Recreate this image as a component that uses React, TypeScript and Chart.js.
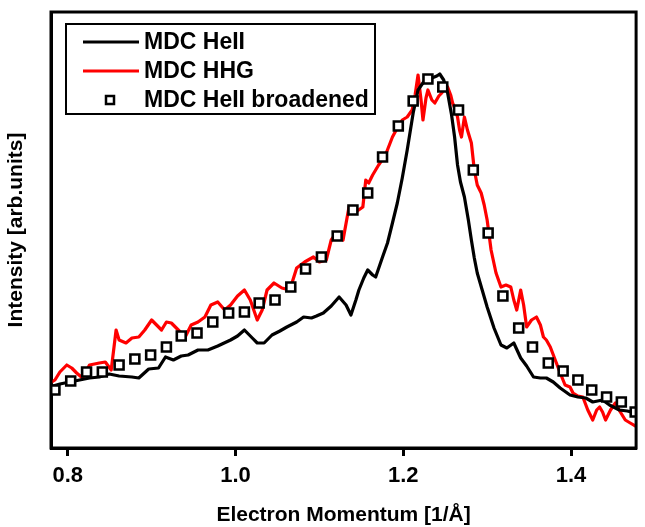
import React, { useEffect, useRef } from "react";
import { Chart, registerables } from "chart.js";

Chart.register(...registerables);

// MDC He II (black trace)
const momentumHeII = [
  0.7788, 0.7906, 0.8024, 0.8141, 0.8259, 0.8376, 0.8494, 0.8612, 0.8765, 0.8847,
  0.8965, 0.9082, 0.9165, 0.9259, 0.9353, 0.9435, 0.9553, 0.9671, 0.9788, 0.9941,
  1.0024, 1.0106, 1.02, 1.0259, 1.0341, 1.0435, 1.0529, 1.0612, 1.0729, 1.0812,
  1.0906, 1.0965, 1.1047, 1.1141, 1.1235, 1.1318, 1.1376, 1.1435, 1.1471, 1.1529,
  1.1576, 1.1635, 1.1671, 1.1753, 1.1812, 1.1871, 1.1929, 1.1988, 1.2047, 1.2118,
  1.2176, 1.2259, 1.2341, 1.24, 1.2435, 1.2482, 1.2529, 1.2576, 1.2612, 1.2647,
  1.2682, 1.2729, 1.2776, 1.2812, 1.2847, 1.2882, 1.2941, 1.3, 1.3082, 1.3165,
  1.3235, 1.3318, 1.34, 1.3471, 1.3553, 1.3635, 1.3706, 1.3788, 1.3871, 1.3988,
  1.4082, 1.4176, 1.4259, 1.4376, 1.4459, 1.4576, 1.4671, 1.4765,
];
const intensityHeII = [
  61, 64, 66, 68, 70, 71, 74, 72, 71, 70,
  79, 80, 91, 88, 92, 93, 98, 98, 102, 108,
  112, 118, 110, 105, 105, 113, 117, 121, 126, 131,
  130, 132, 135, 142, 151, 143, 133, 148, 158, 170,
  178, 173, 171, 191, 205, 225, 245, 270, 298, 335,
  358, 368, 370, 372, 374, 368, 355, 333, 311, 283,
  266, 251, 228, 208, 190, 175, 158, 141, 120, 103,
  100, 105, 90, 82, 71, 70, 70, 66, 60, 53,
  51, 50, 46, 48, 43, 38, 37, 35,
];

// MDC HHG (red trace)
const momentumHHG = [
  0.7788, 0.7847, 0.7906, 0.7988, 0.8047, 0.8106, 0.8176, 0.8259, 0.8376, 0.8447,
  0.8518, 0.8576, 0.8612, 0.8694, 0.8765, 0.8847, 0.8918, 0.9, 0.9059, 0.9118,
  0.9176, 0.9235, 0.9318, 0.94, 0.9471, 0.9553, 0.9635, 0.9706, 0.9788, 0.9871,
  0.9941, 1.0024, 1.0106, 1.0176, 1.0259, 1.0318, 1.0376, 1.0459, 1.0553, 1.0647,
  1.0729, 1.0824, 1.0929, 1.1, 1.1082, 1.1141, 1.12, 1.1282, 1.1353, 1.1435,
  1.1518, 1.1553, 1.1588, 1.1635, 1.1706, 1.1788, 1.1871, 1.1929, 1.1988, 1.2047,
  1.2106, 1.2141, 1.2176, 1.2212, 1.2235, 1.2271, 1.2294, 1.2341, 1.2376, 1.2424,
  1.2459, 1.2494, 1.2529, 1.2565, 1.2588, 1.2624, 1.2647, 1.2671, 1.2694, 1.2729,
  1.2765, 1.2812, 1.2847, 1.2882, 1.2929, 1.2965, 1.3, 1.3047, 1.3106, 1.3165,
  1.3224, 1.3282, 1.3318, 1.3353, 1.34, 1.3435, 1.3471, 1.3529, 1.3588, 1.3635,
  1.3671, 1.3706, 1.3753, 1.3812, 1.3871, 1.3929, 1.3988, 1.4024, 1.4082, 1.4141,
  1.42, 1.4259, 1.4306, 1.4341, 1.4376, 1.4412, 1.4471, 1.4529, 1.4588, 1.4647,
  1.4706, 1.4788,
];
const intensityHHG = [
  65, 68, 76, 83, 80, 75, 70, 83, 85, 86,
  78, 118, 108, 105, 110, 111, 118, 128, 123, 118,
  126, 125, 118, 111, 123, 126, 131, 143, 146, 138,
  143, 152, 158, 148, 128, 138, 158, 165, 160, 158,
  180, 186, 191, 186, 188, 208, 215, 208, 241, 236,
  241, 268, 265, 273, 283, 293, 311, 320, 328, 331,
  338, 353, 373, 348, 328, 350, 358, 348, 345, 352,
  355, 360, 361, 353, 345, 338, 331, 318, 311, 331,
  318, 305, 278, 263, 255, 243, 228, 198, 175, 161,
  163, 161, 148, 138, 158, 143, 121, 128, 131, 123,
  111, 108, 101, 88, 75, 63, 61, 55, 52, 51,
  38, 28, 38, 41, 36, 28, 38, 45, 36, 28,
  25, 21,
];

// MDC He II broadened (open squares)
const momentumBroadened = [
  0.7847, 0.8035, 0.8224, 0.8412, 0.8612, 0.88, 0.8988, 0.9176, 0.9353, 0.9541,
  0.9729, 0.9918, 1.0106, 1.0282, 1.0471, 1.0659, 1.0835, 1.1024, 1.1212, 1.14,
  1.1576, 1.1753, 1.1941, 1.2118, 1.2294, 1.2471, 1.2659, 1.2835, 1.3012, 1.3188,
  1.3376, 1.3541, 1.3729, 1.3906, 1.4082, 1.4247, 1.4424, 1.46, 1.4765,
];
const intensityBroadened = [
  58, 67, 76, 76, 83, 89, 93, 101, 112, 115,
  126, 135, 136, 145, 148, 161, 179, 191, 212, 238,
  255, 291, 322, 347, 369, 361, 338, 278, 215, 152,
  120, 101, 85, 77, 68, 58, 51, 46, 36,
];

const xTicks = [0.8, 1.0, 1.2, 1.4];
const seriesLabels = ["MDC HeII", "MDC HHG", "MDC HeII broadened"];

const FONT = "'Liberation Sans', Arial, Helvetica, sans-serif";

const toPoints = (xs: number[], ys: number[]) => xs.map((x, i) => ({ x, y: ys[i] }));

// Closed frame around the plotting area
const framePlugin = {
  id: "frame",
  afterDatasetsDraw(chart: any) {
    const { ctx, chartArea } = chart;
    ctx.save();
    ctx.strokeStyle = "#000";
    ctx.lineWidth = 3;
    ctx.strokeRect(chartArea.left, chartArea.top, chartArea.right - chartArea.left, chartArea.bottom - chartArea.top);
    ctx.restore();
  },
};

// Boxed legend in the upper-left corner
const boxLegendPlugin = {
  id: "boxLegend",
  afterDraw(chart: any) {
    const { ctx } = chart;
    const ds = chart.data.datasets;
    const left = 66, top = 24, w = 309, h = 90;
    ctx.save();
    ctx.fillStyle = "#fff";
    ctx.fillRect(left, top, w, h);
    ctx.strokeStyle = "#000";
    ctx.lineWidth = 2;
    ctx.strokeRect(left, top, w, h);
    const rows = [42, 71, 100];
    ctx.font = `bold 23px ${FONT}`;
    ctx.textBaseline = "middle";
    ctx.textAlign = "left";
    rows.forEach((y, i) => {
      const d = ds[i];
      if (d.showLine === false) {
        ctx.fillStyle = "#fff";
        ctx.strokeStyle = d.pointBorderColor;
        ctx.lineWidth = 2.5;
        ctx.fillRect(106, y - 4, 8, 8);
        ctx.strokeRect(106, y - 4, 8, 8);
      } else {
        ctx.strokeStyle = d.borderColor;
        ctx.lineWidth = 3;
        ctx.beginPath();
        ctx.moveTo(83, y);
        ctx.lineTo(139, y);
        ctx.stroke();
      }
      ctx.fillStyle = "#000";
      ctx.fillText(d.label, 144, y + 1);
    });
    ctx.restore();
  },
};

export default function App() {
  const canvasRef = useRef<HTMLCanvasElement | null>(null);

  useEffect(() => {
    if (!canvasRef.current) return;
    const chart = new Chart(canvasRef.current, {
      type: "scatter",
      data: {
        datasets: [
          {
            label: seriesLabels[0],
            data: toPoints(momentumHeII, intensityHeII),
            showLine: true,
            borderColor: "#000000",
            borderWidth: 3.2,
            pointRadius: 0,
            tension: 0,
            order: 1,
          },
          {
            label: seriesLabels[1],
            data: toPoints(momentumHHG, intensityHHG),
            showLine: true,
            borderColor: "#ff0000",
            borderWidth: 3.2,
            pointRadius: 0,
            tension: 0,
            order: 2,
          },
          {
            label: seriesLabels[2],
            data: toPoints(momentumBroadened, intensityBroadened),
            showLine: false,
            pointStyle: "rect",
            pointRadius: 6.3,
            pointBorderWidth: 2.6,
            pointBackgroundColor: "#ffffff",
            pointBorderColor: "#000000",
            order: 0,
          },
        ],
      },
      options: {
        responsive: false,
        animation: false,
        events: [],
        layout: { padding: { top: 12, right: 1, left: 0, bottom: 0 } },
        plugins: {
          legend: { display: false },
          tooltip: { enabled: false },
        },
        elements: { line: { borderJoinStyle: "round", borderCapStyle: "round" } },
        scales: {
          x: {
            type: "linear",
            min: 0.78,
            max: 1.4776,
            afterBuildTicks: (scale: any) => {
              scale.ticks = xTicks.map((v) => ({ value: v }));
            },
            afterFit: (scale: any) => {
              scale.height = 79;
            },
            ticks: {
              color: "#000",
              font: { family: FONT, size: 22, weight: "bold" },
              padding: 7,
              maxRotation: 0,
              callback: (v: any) => Number(v).toFixed(1),
            },
            grid: {
              display: true,
              drawOnChartArea: false,
              drawTicks: true,
              tickLength: 8,
              tickWidth: 3,
              tickColor: "#000",
            },
            border: { display: true, color: "#000", width: 3 },
            title: {
              display: true,
              text: "Electron Momentum [1/Å]",
              color: "#000",
              font: { family: FONT, size: 21, weight: "bold", lineHeight: 1.1 },
              padding: { top: 4, bottom: 0 },
            },
          },
          y: {
            type: "linear",
            min: 0,
            max: 436,
            afterBuildTicks: (scale: any) => {
              scale.ticks = [];
            },
            afterFit: (scale: any) => {
              scale.width = 51;
            },
            ticks: { display: false },
            grid: { display: false },
            border: { display: true, color: "#000", width: 3 },
            title: {
              display: true,
              text: "Intensity [arb.units]",
              color: "#000",
              font: { family: FONT, size: 21, weight: "bold" },
              padding: { top: 4, bottom: 0 },
            },
          },
        },
      },
      plugins: [framePlugin, boxLegendPlugin],
    } as any);
    return () => chart.destroy();
  }, []);

  return (
    <div style={{ position: "absolute", left: 0, top: 0, width: 645, height: 527, background: "#fff" }}>
      <canvas ref={canvasRef} width={645} height={527} />
    </div>
  );
}
